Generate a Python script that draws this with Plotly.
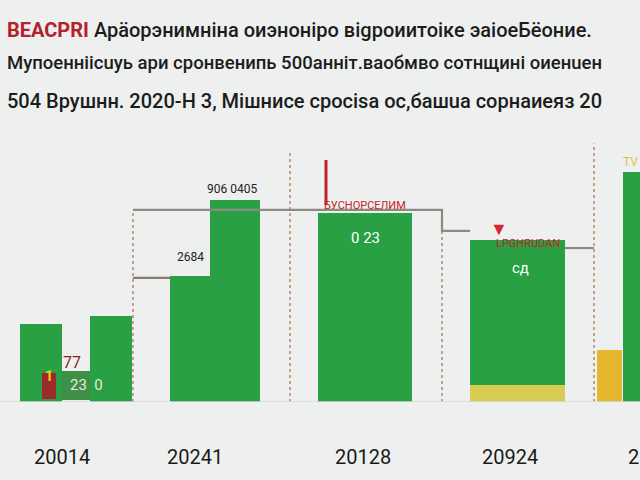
import plotly.graph_objects as go

W, H = 640, 480
# --- data ---
categories = ["20014", "20241", "20128", "20924", "2"]
cat_x = [62, 195, 363, 510, 633]

green_x = [41, 111, 215, 235, 365, 517, 631]
green_w = [42, 42, 90, 50, 94, 95, 17]
green_v = [28.7, 31.6, 46.3, 74.3, 69.5, 59.6, 84.6]

yellow_x = [517, 609]
yellow_w = [95, 25]
yellow_v = [6.3, 19.1]
yellow_c = ["#d8cd52", "#e5b72e"]

step_x = [133, 290, 290, 442, 442, 470]
step_y = [70.6, 70.6, 70.6, 70.6, 62.9, 62.9]
step2_x = [565, 594]
step2_y = [56.6, 56.6]
low_x = [133, 170]
low_y = [45.6, 45.6]

sep_x = [133, 290, 442, 594]
sep_top = [70.6, 92, 70.6, 95]

title_lines = [
    "Арäорэнимнiна оиэнонiро віgpоиитоiке эаiоеБёоние.",
    "Мупоенніісuуь ари сронвенипь 500анніт.ваобмво сотнщині оиенuен",
    "504 Врушнн. 2020-Н 3, Мішнисе срocіsa ос,башuа сорнаиеяз 20",
]
brand = "BEACPRI"

fig = go.Figure()
GREEN = "#28a043"
fig.add_trace(go.Bar(x=green_x, y=green_v, width=green_w, marker_color=GREEN,
                     marker_line_width=0, showlegend=False))
fig.add_trace(go.Bar(x=yellow_x, y=yellow_v, width=yellow_w, marker_color=yellow_c,
                     marker_line_width=0, showlegend=False))
for sx, st in zip(sep_x, sep_top):
    fig.add_trace(go.Scatter(x=[sx, sx], y=[0, st], mode="lines",
                             line=dict(color="#b8856e", width=1.5, dash="dot"),
                             showlegend=False))
fig.add_trace(go.Scatter(x=step_x, y=step_y, mode="lines",
                         line=dict(color="#8f8a80", width=2.2), showlegend=False))
fig.add_trace(go.Scatter(x=step2_x, y=step2_y, mode="lines",
                         line=dict(color="#8f8a80", width=2.2), showlegend=False))
fig.add_trace(go.Scatter(x=low_x, y=low_y, mode="lines",
                         line=dict(color="#8a7a6a", width=2.2), showlegend=False))
fig.add_trace(go.Scatter(x=[0, 640], y=[0, 0], mode="lines",
                         line=dict(color="#d6d8d6", width=1.5), showlegend=False))

top_px, bot_px = 130, 402
ph = bot_px - top_px
def py(p):
    return (bot_px - p) / ph

ann = []
FONT = "Roboto, Liberation Sans, sans-serif"
ann.append(dict(x=5 / W, y=py(30), xref="paper", yref="paper", xanchor="left", yanchor="middle",
                text=f"<b><span style='color:#b3222a'>{brand}</span></b> {title_lines[0]}",
                showarrow=False, font=dict(size=20, color="#1c1c1c", family=FONT, weight=500)))
ann.append(dict(x=5 / W, y=py(63), xref="paper", yref="paper", xanchor="left", yanchor="middle",
                text=title_lines[1], showarrow=False,
                font=dict(size=18.5, color="#1c1c1c", family=FONT, weight=500)))
ann.append(dict(x=5 / W, y=py(101), xref="paper", yref="paper", xanchor="left", yanchor="middle",
                text=title_lines[2], showarrow=False,
                font=dict(size=20, color="#1c1c1c", family=FONT, weight=500)))
for c, cx in zip(categories, cat_x):
    ann.append(dict(x=cx, y=py(457), xref="x", yref="paper", xanchor="center", yanchor="middle",
                    text=c, showarrow=False,
                    font=dict(size=20, color="#1a1a1a", family=FONT)))

# value labels
labels = [
    (72, 362, "77", "#8a1f24", 16),
    (86, 385, "23  0", "#e8e8e8", 15),
    (232, 189, "906 0405", "#222222", 12),
    (190, 257, "2684", "#222222", 12),
    (365, 205, "БУСНОРСЕЛИМ", "#c4202a", 11),
    (365, 238, "0 23", "#ffffff", 15),
    (528, 243, "LPGHRUDAN", "#c4202a", 11),
    (520, 268, "сд", "#ffffff", 15),
    (630, 162, "TV", "#e0c23a", 12),
]
for lx, ly, t, col, sz in labels:
    ann.append(dict(x=lx, y=py(ly), xref="x", yref="paper", xanchor="center", yanchor="middle",
                    text=t, showarrow=False, font=dict(size=sz, color=col, family=FONT)))

shapes = [
    dict(type="rect", xref="x", yref="paper", x0=42, x1=120, y0=py(400), y1=py(371),
         fillcolor="#3f8f46", line_width=0, layer="below"),
    dict(type="rect", xref="x", yref="paper", x0=42, x1=56, y0=py(399), y1=py(373),
         fillcolor="#9c2a2a", line_width=0),
    dict(type="line", xref="x", yref="paper", x0=326, x1=326, y0=py(160), y1=py(205),
         line=dict(color="#c4202a", width=3)),
]
ann.append(dict(x=49, y=py(386), xref="x", yref="paper", text="<b>1</b>", showarrow=False,
                font=dict(size=14, color="#f2d21a", family=FONT)))
ann.append(dict(x=499, y=py(214), xref="x", yref="paper", text="▼", showarrow=False,
                font=dict(size=18, color="#d8262e")))

fig.update_layout(
    width=W, height=H,
    margin=dict(l=0, r=0, t=top_px, b=H - bot_px),
    paper_bgcolor="#eef0ef", plot_bgcolor="#eef0ef",
    barmode="overlay", bargap=0,
    xaxis=dict(range=[0, 640], visible=False, fixedrange=True),
    yaxis=dict(range=[0, 100], visible=False, fixedrange=True),
    annotations=ann, shapes=shapes, showlegend=False,
)
fig.write_html("out.html")
